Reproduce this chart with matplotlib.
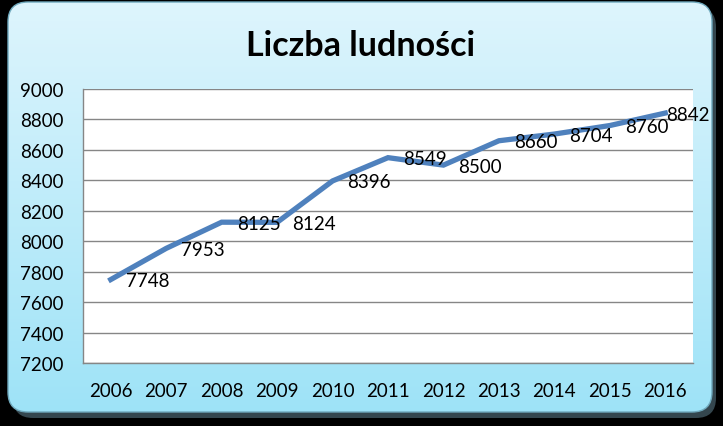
import numpy as np
import matplotlib
matplotlib.use('Agg')
import matplotlib.pyplot as plt
from matplotlib.patches import FancyBboxPatch

# Population figures
years = ['2006', '2007', '2008', '2009', '2010', '2011', '2012', '2013', '2014', '2015', '2016']
population = [7748, 7953, 8125, 8124, 8396, 8549, 8500, 8660, 8704, 8760, 8842]
y_ticks = [7200, 7400, 7600, 7800, 8000, 8200, 8400, 8600, 8800, 9000]

W, H = 723, 427
fig = plt.figure(figsize=(W / 100, H / 100), dpi=100)
fig.patch.set_facecolor('black')

# background layer in pixel coordinates (rounded frame with gradient)
bg = fig.add_axes([0, 0, 1, 1])
bg.set_xlim(0, W)
bg.set_ylim(H, 0)
bg.axis('off')

shadow = FancyBboxPatch((13, 8), 703, 411, boxstyle='round,pad=0,rounding_size=20',
                        facecolor='#34464e', edgecolor='none')
bg.add_patch(shadow)
frame = FancyBboxPatch((8, 3), 704, 410, boxstyle='round,pad=0,rounding_size=20',
                       facecolor='none', edgecolor='#6fa9bd', linewidth=1)
bg.add_patch(frame)
top = np.array([0.87, 0.96, 0.99])
bottom = np.array([0.62, 0.89, 0.97])
t = np.linspace(0, 1, 256)[:, None, None]
grad = top * (1 - t) + bottom * t
img = bg.imshow(grad, extent=(8, 712, 413, 3), aspect='auto', zorder=1)
img.set_clip_path(frame)
frame.set_zorder(2)

fig.text(361 / W, 1 - 46 / H, 'Liczba ludności', ha='center', va='center',
         fontsize=24.5, fontweight='bold', family='Lato', color='black')

ax = fig.add_axes([83 / W, 63 / H, 610 / W, 274 / H])
ax.set_facecolor('white')
x = np.arange(len(years))
ax.plot(x, population, color='#4f81bd', linewidth=3.8, solid_joinstyle='miter', zorder=3)

for i, v in enumerate(population):
    dx = 15 if i < len(population) - 1 else 1
    ax.annotate(str(v), (x[i], v), xytext=(dx, -1), textcoords='offset pixels',
                ha='left', va='center', fontsize=13.5, family='Lato', zorder=4)

ax.set_xlim(-0.5, len(years) - 0.5)
ax.set_ylim(7200, 9000)
ax.set_yticks(y_ticks)
ax.set_xticks(x)
ax.set_xticklabels(years)
ax.grid(axis='y', color='#868686', linewidth=1)
ax.set_axisbelow(True)
ax.tick_params(length=0, labelsize=13.5)
for lab in ax.get_xticklabels() + ax.get_yticklabels():
    lab.set_family('Lato')
ax.tick_params(axis='y', pad=14)
ax.tick_params(axis='x', pad=14)
for s in ['top', 'right']:
    ax.spines[s].set_visible(False)
for s in ['left', 'bottom']:
    ax.spines[s].set_color('#868686')
    ax.spines[s].set_linewidth(1)

fig.savefig('out.png', dpi=100, facecolor=fig.get_facecolor())
